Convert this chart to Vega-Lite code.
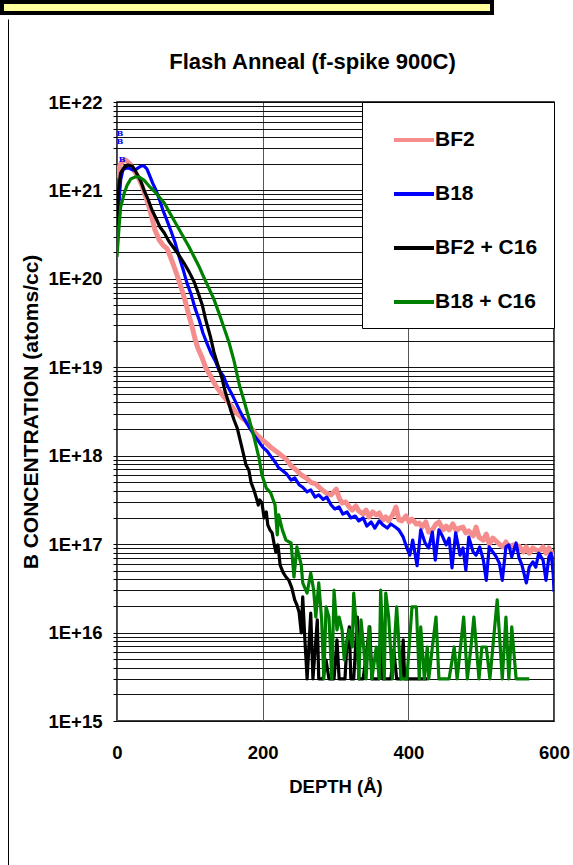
{
  "$schema": "https://vega.github.io/schema/vega-lite/v6.json",
  "padding": 0,
  "background": "white",
  "config": {
    "font": "Liberation Sans",
    "view": {"stroke": null},
    "axis": {"labelFont": "Liberation Sans", "titleFont": "Liberation Sans", "labelColor": "black", "titleColor": "black"}
  },
  "datasets": {
    "bf2": [
      {"depth":0,"conc":1.38e21},{"depth":4,"conc":1.94e21},{"depth":8,"conc":2.15e21},{"depth":12,"conc":2.21e21},{"depth":18,"conc":1.99e21},{"depth":23,"conc":1.70e21},{"depth":29,"conc":1.42e21},{"depth":34,"conc":1.15e21},{"depth":40,"conc":8.2e20},{"depth":44,"conc":6.5e20},{"depth":48,"conc":4.9e20},{"depth":52,"conc":3.6e20},{"depth":58,"conc":2.75e20},{"depth":63,"conc":2.41e20},{"depth":69,"conc":2.18e20},{"depth":74,"conc":1.72e20},{"depth":80,"conc":1.26e20},{"depth":85,"conc":9.5e19},{"depth":91,"conc":6.7e19},{"depth":95,"conc":5.1e19},{"depth":99,"conc":3.8e19},{"depth":103,"conc":2.9e19},{"depth":107,"conc":2.1e19},{"depth":111,"conc":1.65e19},{"depth":117,"conc":1.27e19},{"depth":122,"conc":9.8e18},{"depth":129,"conc":7.8e18},{"depth":136,"conc":6.1e18},{"depth":143,"conc":5.1e18},{"depth":150,"conc":4.3e18},{"depth":157,"conc":3.65e18},{"depth":163,"conc":3.1e18},{"depth":170,"conc":2.74e18},{"depth":177,"conc":2.47e18},{"depth":184,"conc":2.06e18},{"depth":191,"conc":1.76e18},{"depth":198,"conc":1.55e18},{"depth":205,"conc":1.39e18},{"depth":211,"conc":1.25e18},{"depth":218,"conc":1.13e18},{"depth":225,"conc":1.02e18},{"depth":232,"conc":9.2e17},{"depth":239,"conc":7.7e17},{"depth":246,"conc":6.9e17},{"depth":253,"conc":6.05e17},{"depth":260,"conc":5.6e17},{"depth":266,"conc":5.0e17},{"depth":273,"conc":4.8e17},{"depth":280,"conc":4.2e17},{"depth":287,"conc":3.8e17},{"depth":294,"conc":3.6e17},{"depth":301,"conc":4.2e17},{"depth":305,"conc":3.33e17},{"depth":309,"conc":2.92e17},{"depth":314,"conc":3.0e17},{"depth":319,"conc":2.63e17},{"depth":323,"conc":2.43e17},{"depth":328,"conc":2.7e17},{"depth":332,"conc":2.37e17},{"depth":338,"conc":2.19e17},{"depth":342,"conc":2.43e17},{"depth":346,"conc":2.03e17},{"depth":351,"conc":2.31e17},{"depth":356,"conc":2.14e17},{"depth":360,"conc":2.25e17},{"depth":365,"conc":1.88e17},{"depth":369,"conc":2.03e17},{"depth":373,"conc":1.83e17},{"depth":379,"conc":2.19e17},{"depth":383,"conc":2.63e17},{"depth":387,"conc":1.88e17},{"depth":391,"conc":1.83e17},{"depth":397,"conc":2.08e17},{"depth":401,"conc":1.78e17},{"depth":405,"conc":1.92e17},{"depth":411,"conc":1.69e17},{"depth":415,"conc":1.73e17},{"depth":419,"conc":1.56e17},{"depth":424,"conc":1.78e17},{"depth":428,"conc":1.37e17},{"depth":433,"conc":1.45e17},{"depth":438,"conc":1.69e17},{"depth":442,"conc":1.78e17},{"depth":448,"conc":1.45e17},{"depth":452,"conc":1.6e17},{"depth":456,"conc":1.45e17},{"depth":461,"conc":1.69e17},{"depth":466,"conc":1.41e17},{"depth":470,"conc":1.52e17},{"depth":475,"conc":1.56e17},{"depth":479,"conc":1.34e17},{"depth":483,"conc":1.41e17},{"depth":489,"conc":1.24e17},{"depth":493,"conc":1.56e17},{"depth":497,"conc":1.2e17},{"depth":503,"conc":1.11e17},{"depth":507,"conc":1.3e17},{"depth":511,"conc":1.0e17},{"depth":516,"conc":1.17e17},{"depth":520,"conc":1.09e17},{"depth":525,"conc":1.0e17},{"depth":530,"conc":9.3e16},{"depth":534,"conc":1.06e17},{"depth":538,"conc":9.3e16},{"depth":544,"conc":9.8e16},{"depth":548,"conc":8.8e16},{"depth":552,"conc":9.5e16},{"depth":558,"conc":8.15e16},{"depth":562,"conc":9.3e16},{"depth":566,"conc":7.9e16},{"depth":571,"conc":9.05e16},{"depth":575,"conc":8.6e16},{"depth":580,"conc":8.4e16},{"depth":585,"conc":9.3e16},{"depth":589,"conc":7.9e16},{"depth":593,"conc":9.05e16},{"depth":597,"conc":7.7e16},{"depth":600,"conc":8.15e16}
    ],
    "b18": [
      {"depth":0,"conc":3.13e20},{"depth":3,"conc":7.8e20},{"depth":5,"conc":1.31e21},{"depth":8,"conc":1.7e21},{"depth":12,"conc":1.79e21},{"depth":16,"conc":1.79e21},{"depth":22,"conc":1.7e21},{"depth":27,"conc":1.75e21},{"depth":33,"conc":1.89e21},{"depth":37,"conc":1.89e21},{"depth":41,"conc":1.75e21},{"depth":45,"conc":1.46e21},{"depth":49,"conc":1.21e21},{"depth":54,"conc":9.85e20},{"depth":58,"conc":8.0e20},{"depth":63,"conc":6.0e20},{"depth":69,"conc":4.5e20},{"depth":74,"conc":3.5e20},{"depth":80,"conc":2.54e20},{"depth":85,"conc":1.81e20},{"depth":91,"conc":1.26e20},{"depth":96,"conc":9.0e19},{"depth":102,"conc":6.6e19},{"depth":107,"conc":4.7e19},{"depth":113,"conc":3.4e19},{"depth":118,"conc":2.44e19},{"depth":124,"conc":1.83e19},{"depth":129,"conc":1.45e19},{"depth":135,"conc":1.18e19},{"depth":140,"conc":9.3e18},{"depth":146,"conc":8.0e18},{"depth":151,"conc":6.3e18},{"depth":157,"conc":5.1e18},{"depth":162,"conc":4.2e18},{"depth":168,"conc":3.3e18},{"depth":173,"conc":2.74e18},{"depth":179,"conc":2.28e18},{"depth":184,"conc":1.95e18},{"depth":189,"conc":1.67e18},{"depth":195,"conc":1.43e18},{"depth":200,"conc":1.25e18},{"depth":206,"conc":1.13e18},{"depth":211,"conc":9.9e17},{"depth":217,"conc":8.5e17},{"depth":222,"conc":7.3e17},{"depth":228,"conc":6.7e17},{"depth":233,"conc":6.2e17},{"depth":239,"conc":5.3e17},{"depth":244,"conc":5.6e17},{"depth":250,"conc":4.7e17},{"depth":255,"conc":4.4e17},{"depth":261,"conc":3.9e17},{"depth":266,"conc":4.1e17},{"depth":272,"conc":3.4e17},{"depth":277,"conc":3.6e17},{"depth":283,"conc":3.2e17},{"depth":288,"conc":3.4e17},{"depth":294,"conc":2.77e17},{"depth":299,"conc":2.5e17},{"depth":305,"conc":2.63e17},{"depth":310,"conc":2.19e17},{"depth":316,"conc":2.31e17},{"depth":321,"conc":1.98e17},{"depth":327,"conc":2.08e17},{"depth":332,"conc":1.83e17},{"depth":338,"conc":1.98e17},{"depth":343,"conc":1.6e17},{"depth":349,"conc":1.78e17},{"depth":354,"conc":1.52e17},{"depth":360,"conc":1.83e17},{"depth":365,"conc":1.65e17},{"depth":371,"conc":1.52e17},{"depth":376,"conc":1.69e17},{"depth":382,"conc":1.56e17},{"depth":387,"conc":1.45e17},{"depth":393,"conc":1.2e17},{"depth":398,"conc":9.05e16},{"depth":402,"conc":7.5e16},{"depth":406,"conc":1.11e17},{"depth":412,"conc":5.7e16},{"depth":417,"conc":1.45e17},{"depth":423,"conc":1.03e17},{"depth":428,"conc":9.05e16},{"depth":433,"conc":1.37e17},{"depth":437,"conc":6.6e16},{"depth":442,"conc":1.45e17},{"depth":446,"conc":1.27e17},{"depth":452,"conc":9.8e16},{"depth":456,"conc":1.17e17},{"depth":460,"conc":5.4e16},{"depth":465,"conc":1.34e17},{"depth":471,"conc":7.5e16},{"depth":475,"conc":9.05e16},{"depth":479,"conc":5.1e16},{"depth":483,"conc":1.2e17},{"depth":489,"conc":8.15e16},{"depth":493,"conc":7.5e16},{"depth":498,"conc":9.3e16},{"depth":503,"conc":6.6e16},{"depth":507,"conc":3.9e16},{"depth":511,"conc":9.3e16},{"depth":516,"conc":8.15e16},{"depth":520,"conc":7.35e16},{"depth":525,"conc":6.1e16},{"depth":529,"conc":3.9e16},{"depth":534,"conc":9.3e16},{"depth":538,"conc":9.8e16},{"depth":542,"conc":7.2e16},{"depth":548,"conc":1.03e17},{"depth":552,"conc":7.0e16},{"depth":556,"conc":5.8e16},{"depth":562,"conc":3.64e16},{"depth":566,"conc":5.5e16},{"depth":571,"conc":6.3e16},{"depth":575,"conc":5.5e16},{"depth":579,"conc":7.9e16},{"depth":585,"conc":6.6e16},{"depth":589,"conc":3.9e16},{"depth":593,"conc":7.2e16},{"depth":596,"conc":7.9e16},{"depth":599,"conc":4.5e16},{"depth":600,"conc":2.9e16}
    ],
    "bf2c16": [
      {"depth":0,"conc":4.1e20},{"depth":1,"conc":7.8e20},{"depth":3,"conc":1.21e21},{"depth":5,"conc":1.57e21},{"depth":10,"conc":1.84e21},{"depth":15,"conc":1.94e21},{"depth":21,"conc":1.89e21},{"depth":26,"conc":1.62e21},{"depth":32,"conc":1.31e21},{"depth":37,"conc":1.01e21},{"depth":43,"conc":7.8e20},{"depth":48,"conc":6.0e20},{"depth":54,"conc":4.75e20},{"depth":59,"conc":3.86e20},{"depth":65,"conc":3.3e20},{"depth":71,"conc":2.68e20},{"depth":78,"conc":2.23e20},{"depth":85,"conc":1.86e20},{"depth":92,"conc":1.51e20},{"depth":99,"conc":1.2e20},{"depth":106,"conc":9.2e19},{"depth":111,"conc":7.1e19},{"depth":117,"conc":5.1e19},{"depth":122,"conc":3.4e19},{"depth":128,"conc":2.26e19},{"depth":133,"conc":1.49e19},{"depth":139,"conc":1.03e19},{"depth":144,"conc":7.6e18},{"depth":148,"conc":5.5e18},{"depth":152,"conc":4.3e18},{"depth":156,"conc":3.3e18},{"depth":161,"conc":2.5e18},{"depth":165,"conc":2.06e18},{"depth":169,"conc":1.51e18},{"depth":173,"conc":1.1e18},{"depth":177,"conc":7.9e17},{"depth":181,"conc":6.9e17},{"depth":184,"conc":5.0e17},{"depth":188,"conc":4.1e17},{"depth":191,"conc":3.4e17},{"depth":194,"conc":2.77e17},{"depth":196,"conc":3.16e17},{"depth":199,"conc":2.92e17},{"depth":202,"conc":1.98e17},{"depth":205,"conc":2.31e17},{"depth":207,"conc":1.65e17},{"depth":210,"conc":1.45e17},{"depth":213,"conc":1.34e17},{"depth":216,"conc":9.8e16},{"depth":218,"conc":8.15e16},{"depth":221,"conc":9.8e16},{"depth":224,"conc":5.8e16},{"depth":228,"conc":4.8e16},{"depth":232,"conc":4.25e16},{"depth":236,"conc":3.9e16},{"depth":240,"conc":3.2e16},{"depth":244,"conc":2.34e16},{"depth":247,"conc":2.05e16},{"depth":250,"conc":1.71e16},{"depth":253,"conc":9.9e15},{"depth":255,"conc":2.53e16},{"depth":258,"conc":8.25e15},{"depth":261,"conc":3e15},{"depth":264,"conc":8.25e15},{"depth":266,"conc":1.66e16},{"depth":269,"conc":3e15},{"depth":272,"conc":6.35e15},{"depth":275,"conc":1.39e16},{"depth":277,"conc":3e15},{"depth":283,"conc":3e15},{"depth":287,"conc":4.9e15},{"depth":291,"conc":3e15},{"depth":298,"conc":3e15},{"depth":302,"conc":8.25e15},{"depth":305,"conc":3e15},{"depth":313,"conc":3e15},{"depth":316,"conc":8.25e15},{"depth":319,"conc":1.16e16},{"depth":321,"conc":3e15},{"depth":325,"conc":3e15},{"depth":330,"conc":1.5e16},{"depth":332,"conc":3e15},{"depth":338,"conc":3e15},{"depth":343,"conc":6.35e15},{"depth":347,"conc":1.16e16},{"depth":350,"conc":3e15},{"depth":360,"conc":3e15},{"depth":362,"conc":9.9e15},{"depth":365,"conc":3e15},{"depth":376,"conc":3e15},{"depth":380,"conc":6.35e15},{"depth":384,"conc":3e15},{"depth":390,"conc":3e15},{"depth":393,"conc":8.25e15},{"depth":395,"conc":3e15},{"depth":408,"conc":3e15},{"depth":426,"conc":3e15}
    ],
    "b18c16": [
      {"depth":0,"conc":1.77e20},{"depth":3,"conc":4.07e20},{"depth":5,"conc":6.5e20},{"depth":10,"conc":9.35e20},{"depth":14,"conc":1.15e21},{"depth":19,"conc":1.35e21},{"depth":25,"conc":1.42e21},{"depth":30,"conc":1.42e21},{"depth":37,"conc":1.31e21},{"depth":44,"conc":1.12e21},{"depth":51,"conc":9.85e20},{"depth":58,"conc":8.43e20},{"depth":65,"conc":7.2e20},{"depth":71,"conc":5.86e20},{"depth":78,"conc":4.63e20},{"depth":85,"conc":3.66e20},{"depth":92,"conc":2.9e20},{"depth":99,"conc":2.29e20},{"depth":106,"conc":1.77e20},{"depth":113,"conc":1.36e20},{"depth":119,"conc":1.05e20},{"depth":126,"conc":7.9e19},{"depth":133,"conc":5.9e19},{"depth":140,"conc":4.1e19},{"depth":147,"conc":2.78e19},{"depth":154,"conc":1.88e19},{"depth":161,"conc":1.15e19},{"depth":168,"conc":6.3e18},{"depth":174,"conc":4.3e18},{"depth":181,"conc":2.67e18},{"depth":188,"conc":1.63e18},{"depth":195,"conc":9.4e17},{"depth":199,"conc":6.05e17},{"depth":205,"conc":4.3e17},{"depth":211,"conc":3.8e17},{"depth":217,"conc":2.77e17},{"depth":220,"conc":1.27e17},{"depth":222,"conc":2.14e17},{"depth":227,"conc":1.45e17},{"depth":232,"conc":1.11e17},{"depth":239,"conc":1.03e17},{"depth":243,"conc":4.25e16},{"depth":247,"conc":9.3e16},{"depth":253,"conc":5.8e16},{"depth":255,"conc":3.64e16},{"depth":261,"conc":2.8e16},{"depth":266,"conc":4.72e16},{"depth":270,"conc":3.03e16},{"depth":273,"conc":1.5e16},{"depth":277,"conc":3.64e16},{"depth":281,"conc":1.39e16},{"depth":284,"conc":3e15},{"depth":287,"conc":1.95e16},{"depth":291,"conc":1.5e16},{"depth":295,"conc":3e15},{"depth":298,"conc":3.03e16},{"depth":302,"conc":1.07e16},{"depth":305,"conc":1.5e16},{"depth":309,"conc":1.07e16},{"depth":312,"conc":4.9e15},{"depth":314,"conc":6.87e15},{"depth":319,"conc":1.07e16},{"depth":323,"conc":6.87e15},{"depth":325,"conc":2.8e16},{"depth":330,"conc":8.25e15},{"depth":332,"conc":3e15},{"depth":335,"conc":1.39e16},{"depth":339,"conc":6.35e15},{"depth":342,"conc":3e15},{"depth":346,"conc":1.16e16},{"depth":350,"conc":3e15},{"depth":356,"conc":6.87e15},{"depth":360,"conc":3e15},{"depth":362,"conc":3.03e16},{"depth":367,"conc":3e15},{"depth":369,"conc":2.8e16},{"depth":373,"conc":1.5e16},{"depth":378,"conc":3e15},{"depth":384,"conc":1.95e16},{"depth":390,"conc":3e15},{"depth":398,"conc":3e15},{"depth":405,"conc":1.95e16},{"depth":411,"conc":1.95e16},{"depth":415,"conc":3e15},{"depth":417,"conc":1.16e16},{"depth":422,"conc":3e15},{"depth":426,"conc":6.87e15},{"depth":428,"conc":3e15},{"depth":433,"conc":6.87e15},{"depth":438,"conc":1.5e16},{"depth":442,"conc":3e15},{"depth":456,"conc":3e15},{"depth":463,"conc":6.87e15},{"depth":467,"conc":3e15},{"depth":476,"conc":1.5e16},{"depth":481,"conc":3e15},{"depth":486,"conc":6.87e15},{"depth":490,"conc":1.5e16},{"depth":497,"conc":3e15},{"depth":501,"conc":6.87e15},{"depth":507,"conc":6.87e15},{"depth":512,"conc":3e15},{"depth":522,"conc":2.34e16},{"depth":529,"conc":3e15},{"depth":534,"conc":1.5e16},{"depth":538,"conc":3e15},{"depth":542,"conc":1.16e16},{"depth":548,"conc":3e15},{"depth":566,"conc":3e15}
    ],
    "markers": [
      {"depth":4,"conc":4.35e21},{"depth":4,"conc":3.53e21},{"depth":7,"conc":2.21e21}
    ]
  },
  "spacing": 4,
  "resolve": {"scale": {"color": "independent"}, "legend": {"color": "independent"}},
  "vconcat": [
    {
      "width": 490,
      "height": 11,
      "view": {"fill": "#ffff9c", "stroke": "black", "strokeWidth": 4},
      "data": {"values": []},
      "mark": "point"
    },
    {
      "spacing": 12,
      "resolve": {"scale": {"color": "independent"}, "legend": {"color": "independent"}},
      "hconcat": [
        {
          "width": 6,
          "height": 850,
          "data": {"values": []},
          "mark": "point",
          "encoding": {
            "y": {
              "field": "v",
              "type": "quantitative",
              "scale": {"domain": [0, 1]},
              "axis": {"orient": "right", "title": null, "labels": false, "ticks": false, "grid": false, "domain": true, "domainColor": "black", "domainWidth": 1}
            }
          }
        },
        {
          "spacing": 19,
          "resolve": {"scale": {"color": "independent"}, "legend": {"color": "independent"}},
          "vconcat": [
            {
              "width": 437,
              "height": 30,
              "data": {"values": []},
              "mark": "point",
              "title": {
                "text": "Flash Anneal (f-spike 900C)",
                "orient": "bottom",
                "font": "Liberation Sans",
                "fontSize": 22,
                "fontWeight": "bold",
                "color": "black",
                "anchor": "middle",
                "frame": "group",
                "dx": -23,
                "offset": 3
              }
            },
            {
              "width": 437,
              "height": 619,
              "view": {"stroke": "black", "strokeWidth": 1.5},
              "encoding": {
                "x": {
                  "field": "depth",
                  "type": "quantitative",
                  "title": "DEPTH (Å)",
                  "scale": {"domain": [0, 600], "nice": false, "zero": false},
                  "axis": {
                    "values": [0, 200, 400, 600],
                    "format": "d",
                    "labelFontSize": 18.5,
                    "labelFontWeight": "bold",
                    "labelPadding": 22,
                    "labelFlush": false,
                    "labelOverlap": false,
                    "ticks": false,
                    "domain": false,
                    "grid": true,
                    "gridColor": "#555555",
                    "gridWidth": 1,
                    "gridOpacity": 1,
                    "titleFontSize": 18.5,
                    "titleFontWeight": "bold",
                    "titlePadding": 16
                  }
                },
                "y": {
                  "field": "conc",
                  "type": "quantitative",
                  "title": "B CONCENTRATION (atoms/cc)",
                  "scale": {"type": "log", "domain": [1e15, 1e22], "nice": false},
                  "axis": {
                    "values": [1e15,2e15,3e15,4e15,5e15,6e15,7e15,8e15,9e15,1e16,2e16,3e16,4e16,5e16,6e16,7e16,8e16,9e16,1e17,2e17,3e17,4e17,5e17,6e17,7e17,8e17,9e17,1e18,2e18,3e18,4e18,5e18,6e18,7e18,8e18,9e18,1e19,2e19,3e19,4e19,5e19,6e19,7e19,8e19,9e19,1e20,2e20,3e20,4e20,5e20,6e20,7e20,8e20,9e20,1e21,2e21,3e21,4e21,5e21,6e21,7e21,8e21,9e21,1e22],
                    "labelExpr": "abs(log(datum.value)/LN10 - round(log(datum.value)/LN10)) < 0.001 ? '1E+' + round(log(datum.value)/LN10) : ''",
                    "labelFontSize": 18.5,
                    "labelFontWeight": "bold",
                    "labelPadding": 11,
                    "labelOverlap": false,
                    "labelBound": false,
                    "labelFlush": false,
                    "tickSize": 4,
                    "tickColor": "black",
                    "tickWidth": 1,
                    "domain": false,
                    "grid": true,
                    "gridColor": "#111111",
                    "gridWidth": 1,
                    "gridOpacity": 1,
                    "titleFontSize": 21,
                    "titleFontWeight": "bold",
                    "titlePadding": 6
                  }
                }
              },
              "layer": [
                {
                  "data": {"name": "bf2"},
                  "mark": {"type": "line", "strokeWidth": 5, "clip": true, "strokeJoin": "round"},
                  "encoding": {
                    "color": {
                      "datum": "BF2",
                      "type": "nominal",
                      "scale": {"domain": ["BF2", "B18", "BF2 + C16", "B18 + C16"], "range": ["#f58d8d", "#0000ff", "#000000", "#008000"]},
                      "legend": {
                        "title": null,
                        "orient": "top-right",
                        "offset": 0,
                        "padding": 16,
                        "symbolOffset": 14,
                        "symbolType": "stroke",
                        "symbolSize": 1600,
                        "symbolStrokeWidth": 4,
                        "rowPadding": 22,
                        "labelFont": "Liberation Sans",
                        "labelFontSize": 21,
                        "labelFontWeight": "bold",
                        "labelColor": "black",
                        "labelOffset": -1,
                        "labelLimit": 300,
                        "labelExpr": "datum.label + '\u00a0\u00a0'",
                        "strokeColor": "black",
                        "fillColor": "white",
                        "cornerRadius": 0
                      }
                    }
                  }
                },
                {
                  "data": {"name": "b18"},
                  "mark": {"type": "line", "strokeWidth": 3.2, "clip": true, "strokeJoin": "round"},
                  "encoding": {"color": {"datum": "B18", "type": "nominal"}}
                },
                {
                  "data": {"name": "bf2c16"},
                  "mark": {"type": "line", "strokeWidth": 3.2, "clip": true, "strokeJoin": "round"},
                  "encoding": {"color": {"datum": "BF2 + C16", "type": "nominal"}}
                },
                {
                  "data": {"name": "b18c16"},
                  "mark": {"type": "line", "strokeWidth": 3.2, "clip": true, "strokeJoin": "round"},
                  "encoding": {"color": {"datum": "B18 + C16", "type": "nominal"}}
                },
                {
                  "data": {"name": "markers"},
                  "mark": {"type": "text", "text": "B", "font": "DejaVu Serif", "fontSize": 8, "fontWeight": "bold", "color": "#0000ff", "clip": false}
                }
              ]
            }
          ]
        }
      ]
    }
  ]
}
